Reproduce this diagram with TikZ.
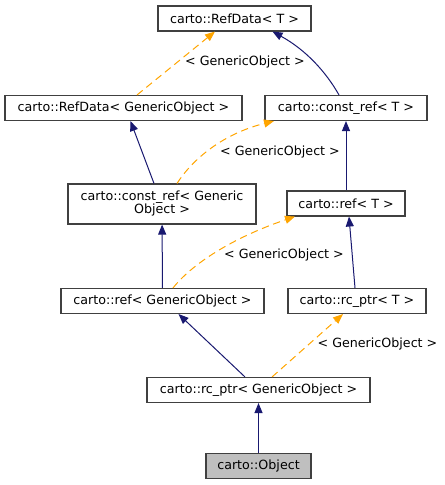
\documentclass[tikz,border=0pt]{standalone}
\usepackage{fontspec}
\setmainfont{DejaVu Sans}
\usetikzlibrary{
  shapes,
  arrows.meta,
  calc,
}
\definecolor{edgeblue}{HTML}{191970}
\definecolor{edgeorange}{HTML}{FFA500}
\definecolor{boxgray}{HTML}{404040}

\begin{document}
\begin{tikzpicture}[x=0.75pt,y=-0.75pt,
    cls/.style={draw=boxgray, line width=0.8pt, fill=white, inner sep=1pt,
        minimum height=18.75pt, font=\fontsize{9.5}{9.75}\selectfont, align=center},
    inh/.style={draw=edgeblue, line width=0.75pt, -{Triangle[length=7.5pt,width=6pt]}},
    tpl/.style={draw=edgeorange, line width=0.75pt, dash pattern=on 5.5pt off 3.5pt,
        -{Triangle[length=7.5pt,width=6pt]}},
    lbl/.style={font=\fontsize{9.5}{11}\selectfont, inner sep=0pt},
  ]
  \useasboundingbox (0,0) rectangle (445,485);

  % classes
  \node[cls, minimum width=114.75pt] (rdT) at (234.5,18.5) {carto::RefData< T >};
  \node[cls, minimum width=177.75pt] (rdGO) at (123.5,108) {carto::RefData< GenericObject >};
  \node[cls, minimum width=121.5pt] (crT) at (346,108) {carto::const\_ref< T >};
  \node[cls, minimum width=141pt, minimum height=30pt] (crGO) at (162,204)
    {carto::const\_ref< Generic\\Object >};
  \node[cls, minimum width=88.5pt] (rfT) at (346,203.5) {carto::ref< T >};
  \node[cls, minimum width=152.25pt] (rfGO) at (162.5,301) {carto::ref< GenericObject >};
  \node[cls, minimum width=103.5pt] (rcT) at (357,301) {carto::rc\_ptr< T >};
  \node[cls, minimum width=167.25pt] (rcGO) at (258.5,390) {carto::rc\_ptr< GenericObject >};
  \node[cls, minimum width=78.75pt, fill=black!25] (obj) at (258.5,466) {carto::Object};

  % edges
  \draw[tpl] ($(rdGO.north)+(13.5,0)$) -- ($(rdT.south)+(-19.5,0)$);
  \node[lbl] (l1) at (245,62) {< GenericObject >};
  \draw[inh] ($(crT.north)+(-7,0)$) .. controls (326,72) and (306,50) .. ($(rdT.south)+(38,0)$);
  \draw[inh] ($(crGO.north)+(-8,0)$) -- ($(rdGO.south)+(7,0)$);
  \draw[tpl] ($(crGO.north)+(15,0)$) .. controls (192,160) and (222,134) .. ($(crT.south)+(-72,0)$);
  \node[lbl] (l2) at (280,152) {< GenericObject >};
  \draw[inh] (rfT) -- (crT);
  \draw[inh] (rfGO) -- (crGO);
  \draw[tpl] ($(rfGO.north)+(10.5,0)$) .. controls (192,264) and (232,238) .. ($(rfT.south)+(-51,0)$);
  \node[lbl] (l3) at (284,255) {< GenericObject >};
  \draw[inh] ($(rcT.north)+(-2,0)$) -- ($(rfT.south)+(3,0)$);
  \draw[inh] ($(rcGO.north)+(-13.5,0)$) -- ($(rfGO.south)+(16,0)$);
  \draw[tpl] ($(rcGO.north)+(13.5,0)$) -- ($(rcT.south)+(-14,0)$);
  \node[lbl] (l4) at (377.5,344) {< GenericObject >};
  \draw[inh] (obj) -- (rcGO);
\end{tikzpicture}
\end{document}
